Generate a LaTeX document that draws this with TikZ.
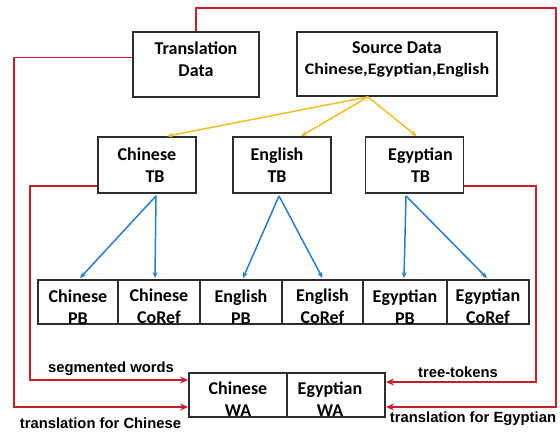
\documentclass[tikz,border=0pt]{standalone}
\usepackage{fontspec}
\setmainfont{Carlito}
\newfontfamily\lblfont{Liberation Sans}
\newfontfamily\widefont{Carlito}[FakeStretch=1.12]
\usetikzlibrary{arrows.meta}
\definecolor{redc}{RGB}{200,30,40}
\definecolor{bluec}{RGB}{40,125,200}
\definecolor{yelc}{RGB}{240,190,40}
\definecolor{boxc}{RGB}{45,45,45}
\begin{document}
\begin{tikzpicture}[x=1pt,y=-1pt,
  box/.style={draw=boxc,line width=1.8pt,align=center,inner sep=0pt,
    font=\bfseries\fontsize{18}{22}\selectfont},
  tbbox/.style={box,minimum width=98pt,minimum height=56pt},
  rowbox/.style={box,minimum height=44pt},
  redarrow/.style={draw=redc,line width=1.9pt,-{Stealth[length=8pt,width=7pt]}},
  bluearrow/.style={draw=bluec,line width=1.5pt,-{Stealth[length=6pt,width=5pt]}},
  yelarrow/.style={draw=yelc,line width=1.5pt,-{Stealth[length=6pt,width=5pt]}},
  lbl/.style={font=\lblfont\bfseries\fontsize{14.8}{17}\selectfont,inner sep=0pt}]
\useasboundingbox (0,0) rectangle (560,432);

% top boxes
\node[box,minimum width=126pt,minimum height=65pt] (trans) at (196,64.5)
  {Translation\\Data\rule[-11pt]{0pt}{11pt}};
\node[box,minimum width=200pt,minimum height=64pt] (src) at (397,64)
  {Source Data\\[-1pt]{\widefont\fontsize{16}{19}\selectfont Chinese,Egyptian,English}\rule[-11pt]{0pt}{11pt}};

% TB boxes
\node[tbbox] (ctb) at (147,165) {Chinese\\\hspace*{16pt}TB};
\node[tbbox] (etb) at (282,165) {\hspace*{-10pt}English\\\hspace*{-10pt}TB};
\node[tbbox] (gtb) at (414.5,165) {\hspace*{12pt}Egyptian\\\hspace*{12pt}TB};

% bottom row
\node[rowbox,minimum width=80pt] (cpb) at (78,302) {\rule{0pt}{22pt}Chinese\\PB};
\node[rowbox,minimum width=82pt] (ccr) at (159,302) {\rule{0pt}{22pt}Chinese\\CoRef};
\node[rowbox,minimum width=82pt] (epb) at (241,302) {\rule{0pt}{22pt}English\\PB};
\node[rowbox,minimum width=81pt] (ecr) at (322.5,302) {\rule{0pt}{22pt}English\\CoRef};
\node[rowbox,minimum width=84pt] (gpb) at (405,302) {\rule{0pt}{22pt}Egyptian\\PB};
\node[rowbox,minimum width=82pt] (gcr) at (488,302) {\rule{0pt}{22pt}Egyptian\\CoRef};

% WA boxes
\node[rowbox,minimum width=98pt] (wac) at (238,395) {\rule{0pt}{20pt}Chinese\\WA};
\node[rowbox,minimum width=98pt] (wae) at (336,395) {\rule{0pt}{20pt}\hspace*{-12pt}Egyptian\\\hspace*{-12pt}WA};

% yellow arrows
\draw[yelarrow] ([xshift=-29pt]src.south) -- ([xshift=20pt]ctb.north);
\draw[yelarrow] ([xshift=-29pt]src.south) -- ([xshift=19pt]etb.north);
\draw[yelarrow] ([xshift=-29pt]src.south) -- ([xshift=2pt]gtb.north);

% blue arrows
\draw[bluearrow] ([xshift=9pt,yshift=-2pt]ctb.south) -- ([xshift=2pt,yshift=1pt]cpb.north);
\draw[bluearrow] ([xshift=9pt,yshift=-2pt]ctb.south) -- ([xshift=-4pt,yshift=1pt]ccr.north);
\draw[bluearrow] ([xshift=-3pt,yshift=-2pt]etb.south) -- ([xshift=2pt,yshift=1pt]epb.north);
\draw[bluearrow] ([xshift=-3pt,yshift=-2pt]etb.south) -- ([xshift=0pt,yshift=1pt]ecr.north);
\draw[bluearrow] ([xshift=-8.5pt,yshift=-2pt]gtb.south) -- ([xshift=-1pt,yshift=1pt]gpb.north);
\draw[bluearrow] ([xshift=-8.5pt,yshift=-2pt]gtb.south) -- ([xshift=-1pt,yshift=1pt]gcr.north);

% red connectors
\coordinate (topr) at (556,8);
\coordinate (er) at (556,407);
\coordinate (cl) at (14,407);
\coordinate (sl) at (30,380);
\coordinate (sr) at (536,382);
\draw[redarrow] (trans.north) |- (topr) -- (er) -- (er -| wae.east);
\draw[redarrow] ([yshift=7pt]trans.west) -| (cl) -- (cl -| wac.west);
\draw[redarrow] ([yshift=-21pt]ctb.west) -| (sl) -- (sl -| wac.west);
\draw[redarrow] ([yshift=-21pt]gtb.east) -| (sr) -- (sr -| wae.east);

% labels
\node[lbl] (lsw) at (111,369) {segmented words};
\node[lbl] (ltc) at (100.5,423) {translation for Chinese};
\node[lbl] (ltt) at (458,372) {tree-tokens};
\node[lbl] (lte) at (473,419) {translation for Egyptian};
\end{tikzpicture}
\end{document}
